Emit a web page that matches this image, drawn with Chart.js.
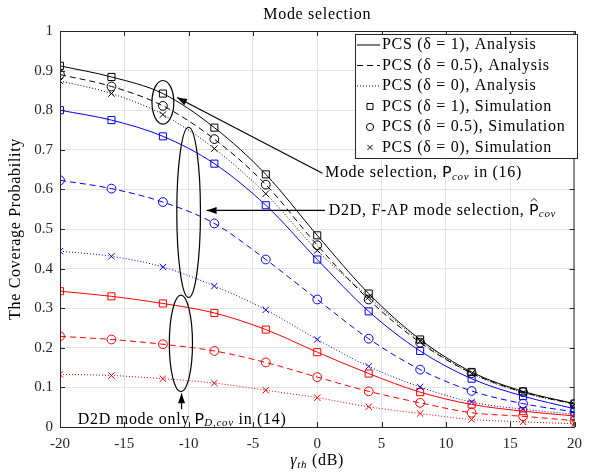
<!DOCTYPE html>
<html lang="en">
<head>
<meta charset="UTF-8">
<title>Mode selection</title>
<style>
  html, body { margin: 0; padding: 0; background: #fff; }
</style>
</head>
<body>
<canvas id="myChart" width="590" height="472"></canvas>
<script src="https://cdn.jsdelivr.net/npm/chart.js"></script>
<script>
// gamma_th (dB) where the simulation points sit
const snr = [-20, -16, -12, -8, -4, 0, 4, 8, 12, 16, 20];

// Mode selection, P_cov (black)
const modeSel_d1  = [0.912, 0.884, 0.842, 0.756, 0.638, 0.484, 0.337, 0.221, 0.139, 0.090, 0.059];
const modeSel_d05 = [0.890, 0.860, 0.811, 0.727, 0.612, 0.459, 0.322, 0.213, 0.136, 0.088, 0.058];
const modeSel_d0  = [0.874, 0.842, 0.789, 0.703, 0.589, 0.446, 0.328, 0.217, 0.135, 0.087, 0.057];
// D2D, F-AP mode selection (blue)
const fap_d1  = [0.800, 0.775, 0.734, 0.665, 0.560, 0.423, 0.292, 0.192, 0.122, 0.078, 0.046];
const fap_d05 = [0.623, 0.602, 0.568, 0.514, 0.423, 0.322, 0.223, 0.145, 0.091, 0.059, 0.038];
const fap_d0  = [0.444, 0.431, 0.404, 0.356, 0.296, 0.221, 0.153, 0.101, 0.063, 0.045, 0.032];
// D2D mode only (red)
const d2d_d1  = [0.343, 0.330, 0.312, 0.288, 0.246, 0.189, 0.135, 0.088, 0.057, 0.040, 0.028];
const d2d_d05 = [0.229, 0.221, 0.209, 0.192, 0.163, 0.126, 0.090, 0.061, 0.036, 0.027, 0.016];
const d2d_d0  = [0.133, 0.130, 0.122, 0.111, 0.093, 0.074, 0.051, 0.034, 0.019, 0.013, 0.008];

const legendLabels = [
  'PCS (\u03B4 = 1), Analysis',
  'PCS (\u03B4 = 0.5), Analysis',
  'PCS (\u03B4 = 0), Analysis',
  'PCS (\u03B4 = 1), Simulation',
  'PCS (\u03B4 = 0.5), Simulation',
  'PCS (\u03B4 = 0), Simulation'
];

const SERIF = '"Liberation Serif", "DejaVu Serif", serif';
const MONO = '"Liberation Mono", "DejaVu Sans Mono", monospace';
const AXIS = '#262626';

const DASH = [6, 4];
const DOT = [1, 2];

function toPts(arr) { return snr.map((x, i) => ({ x: x, y: arr[i] })); }

function lineSet(arr, color, dash) {
  return {
    data: toPts(arr), showLine: true, borderColor: color, borderWidth: 1,
    borderDash: dash, pointRadius: 0, cubicInterpolationMode: 'monotone', fill: false
  };
}
function markSet(arr, color, style, r) {
  return {
    data: toPts(arr), showLine: false, pointStyle: style, pointRadius: r,
    borderColor: color, backgroundColor: 'rgba(0,0,0,0)', pointBorderWidth: 1
  };
}

const groups = [
  ['#000000', modeSel_d1, modeSel_d05, modeSel_d0],
  ['#0000ff', fap_d1, fap_d05, fap_d0],
  ['#ff0000', d2d_d1, d2d_d05, d2d_d0]
];
const datasets = [];
groups.forEach(g => {
  datasets.push(lineSet(g[1], g[0], []));
  datasets.push(lineSet(g[2], g[0], DASH));
  datasets.push(lineSet(g[3], g[0], DOT));
});
groups.forEach(g => {
  datasets.push(markSet(g[1], g[0], 'rect', 5));
  datasets.push(markSet(g[2], g[0], 'circle', 4.4));
  datasets.push(markSet(g[3], g[0], 'crossRot', 4.5));
});

// draws pieces of text one after another: [text, font, dy, spacing]
function drawRuns(ctx, x, y, parts, align) {
  const sp = p => (p[3] !== undefined ? p[3] : '0.7px');
  let w = 0;
  parts.forEach(p => { ctx.font = p[1]; ctx.letterSpacing = sp(p); w += ctx.measureText(p[0]).width; });
  let cx = align === 'center' ? x - w / 2 : x;
  ctx.textAlign = 'left';
  ctx.textBaseline = 'middle';
  parts.forEach(p => {
    ctx.font = p[1];
    ctx.letterSpacing = sp(p);
    ctx.fillText(p[0], cx, y + (p[2] || 0));
    cx += ctx.measureText(p[0]).width;
  });
  ctx.letterSpacing = '0px';
  return cx;
}

function arrow(ctx, x1, y1, x2, y2) {
  ctx.beginPath();
  ctx.moveTo(x1, y1);
  ctx.lineTo(x2, y2);
  ctx.stroke();
  const a = Math.atan2(y2 - y1, x2 - x1);
  const L = 10, W = 3.5;
  ctx.beginPath();
  ctx.moveTo(x2, y2);
  ctx.lineTo(x2 - L * Math.cos(a) + W * Math.sin(a), y2 - L * Math.sin(a) - W * Math.cos(a));
  ctx.lineTo(x2 - L * Math.cos(a) - W * Math.sin(a), y2 - L * Math.sin(a) + W * Math.cos(a));
  ctx.closePath();
  ctx.fill();
}

const decor = {
  id: 'decor',
  afterDatasetsDraw(chart) {
    const ctx = chart.ctx;
    const a = chart.chartArea;
    const xs = chart.scales.x, ys = chart.scales.y;
    const px = v => xs.getPixelForValue(v);
    const py = v => ys.getPixelForValue(v);
    ctx.save();

    // box and inner ticks
    ctx.strokeStyle = AXIS;
    ctx.lineWidth = 1;
    ctx.strokeRect(a.left + 0.5, a.top + 0.5, a.right - a.left - 1, a.bottom - a.top);
    ctx.beginPath();
    xs.ticks.forEach(t => {
      const x = Math.round(px(t.value)) + 0.5;
      ctx.moveTo(x, a.bottom); ctx.lineTo(x, a.bottom - 5);
      ctx.moveTo(x, a.top); ctx.lineTo(x, a.top + 5);
    });
    ys.ticks.forEach(t => {
      const y = Math.round(py(t.value)) + 0.5;
      ctx.moveTo(a.left, y); ctx.lineTo(a.left + 5, y);
      ctx.moveTo(a.right, y); ctx.lineTo(a.right - 5, y);
    });
    ctx.stroke();

    // ellipses
    ctx.strokeStyle = '#000';
    ctx.fillStyle = '#000';
    ctx.lineWidth = 1.2;
    [[-12, 0.82, 0.85, 0.055], [-10, 0.542, 0.92, 0.215], [-10.6, 0.211, 0.9, 0.122]].forEach(e => {
      const cx = px(e[0]), cy = py(e[1]);
      const rx = px(e[0] + e[2]) - cx, ry = cy - py(e[1] + e[3]);
      ctx.beginPath();
      ctx.ellipse(cx, cy, rx, ry, 0, 0, Math.PI * 2);
      ctx.stroke();
    });

    // arrows
    arrow(ctx, px(0.4), py(0.641), px(-10.9), py(0.832));
    arrow(ctx, px(0.6), py(0.547), px(-8.6), py(0.547));
    arrow(ctx, px(-10.55), py(0.045), px(-10.55), py(0.085));

    // annotation texts
    ctx.fillStyle = '#000';
    const f = '16px ' + SERIF, fi = 'italic 11px ' + SERIF, fm = '16px ' + MONO;
    drawRuns(ctx, px(0.6), py(0.641), [['Mode selection, ', f], ['P', fm, 0, '0px'], ['cov', fi, 4], [' in (16)', f]]);
    const hx = drawRuns(ctx, px(0.9), py(0.547), [['D2D, F-AP mode selection, ', f]]);
    const pEnd = drawRuns(ctx, hx, py(0.547), [['P', fm, 0, '0px']]);
    drawRuns(ctx, pEnd, py(0.547), [['cov', fi, 4]]);
    // hat over P
    const hc = (hx + pEnd) / 2, ht = py(0.547) - 10;
    ctx.beginPath();
    ctx.lineWidth = 0.9;
    ctx.moveTo(hc - 3, ht + 1); ctx.lineTo(hc, ht - 2); ctx.lineTo(hc + 3, ht + 1);
    ctx.stroke();
    drawRuns(ctx, px(-10.5), py(0.019), [['D2D mode only ', f], ['P', fm, 0, '0px'], ['D,cov', fi, 4], [' in (14)', f]], 'center');

    // legend
    const lx = 355, ly = 34, lw = 222, lh = 124;
    ctx.fillStyle = '#fff';
    ctx.fillRect(lx, ly, lw, lh);
    ctx.strokeStyle = AXIS;
    ctx.lineWidth = 1;
    ctx.strokeRect(lx + 0.5, ly + 0.5, lw, lh);
    ctx.strokeStyle = '#000';
    const styles = ['rect', 'circle', 'crossRot'];
    const radii = [5, 4.4, 4.5];
    const dashes = [[], DASH, DOT];
    legendLabels.forEach((lab, i) => {
      const y = ly + 11 + i * 20.5;
      if (i < 3) {
        ctx.save();
        ctx.setLineDash(dashes[i]);
        ctx.beginPath();
        ctx.moveTo(357, y); ctx.lineTo(380, y);
        ctx.stroke();
        ctx.restore();
      } else {
        ctx.fillStyle = '#fff';
        Chart.helpers.drawPoint(ctx, { pointStyle: styles[i - 3], radius: radii[i - 3] - 0.8, rotation: 0, borderWidth: 1 }, 370, y);
      }
      ctx.fillStyle = '#000';
      drawRuns(ctx, 382, y, [[lab, f]]);
    });

    // title and axis titles
    ctx.fillStyle = '#000';
    drawRuns(ctx, (a.left + a.right) / 2, 15, [['Mode selection', f]], 'center');
    drawRuns(ctx, (a.left + a.right) / 2, 461, [['\u03B3', 'italic 16px ' + SERIF], ['th', fi, 4], [' (dB)', f]], 'center');
    ctx.save();
    ctx.translate(16, (a.top + a.bottom) / 2);
    ctx.rotate(-Math.PI / 2);
    drawRuns(ctx, 0, 0, [['The Coverage Probability', f]], 'center');
    ctx.restore();

    ctx.restore();
  }
};

new Chart(document.getElementById('myChart'), {
  type: 'scatter',
  data: { datasets: datasets },
  options: {
    responsive: false,
    animation: false,
    events: [],
    layout: { padding: { top: 31, right: 10, left: 0, bottom: 0 } },
    plugins: { legend: { display: false }, tooltip: { enabled: false }, title: { display: false } },
    scales: {
      x: {
        type: 'linear', min: -20, max: 20,
        ticks: { stepSize: 5, color: AXIS, font: { family: SERIF, size: 15 }, padding: 8, maxRotation: 0 },
        grid: { color: '#e3e3e3', drawTicks: false },
        border: { color: AXIS },
        afterFit: s => { s.height = 45; }
      },
      y: {
        min: 0, max: 1,
        ticks: {
          stepSize: 0.1, color: AXIS, font: { family: SERIF, size: 15 }, padding: 7,
          callback: v => String(Number(v.toFixed(1)))
        },
        grid: { color: '#e3e3e3', drawTicks: false },
        border: { color: AXIS },
        afterFit: s => { s.width = 60; }
      }
    }
  },
  plugins: [decor]
});
</script>
</body>
</html>
